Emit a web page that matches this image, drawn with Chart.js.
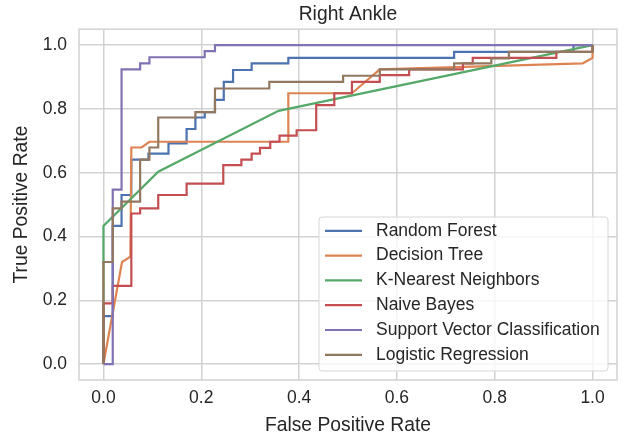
<!DOCTYPE html>
<html>
<head>
<meta charset="utf-8">
<script src="https://cdn.jsdelivr.net/npm/chart.js@4.4.1/dist/chart.umd.min.js"></script>
<style>
  html, body { margin: 0; padding: 0; background: #fff; }
  #wrap { width: 626px; height: 437px; }
</style>
</head>
<body>
<div id="wrap"><canvas id="rocChart" width="626" height="437"></canvas></div>
<script>
// ROC curves for each classifier: false positive rate / true positive rate
const modelNames = ['Random Forest', 'Decision Tree', 'K-Nearest Neighbors',
    'Naive Bayes', 'Support Vector Classification', 'Logistic Regression'];
const modelColors = ['#4C72B0', '#DD8452', '#55A868', '#C44E52', '#8172B3', '#937860'];

const rfFpr = [0, 0, 0.019, 0.019, 0.037, 0.037, 0.057, 0.057, 0.092, 0.092, 0.133, 0.133, 0.17, 0.17, 0.188, 0.188, 0.207, 0.207, 0.228, 0.228, 0.246, 0.246, 0.265, 0.265, 0.303, 0.303, 0.378, 0.378, 0.717, 0.717, 0.961, 0.961, 1];
const rfTpr = [0, 0.15, 0.15, 0.433, 0.433, 0.53, 0.53, 0.641, 0.641, 0.66, 0.66, 0.692, 0.692, 0.737, 0.737, 0.773, 0.773, 0.79, 0.79, 0.828, 0.828, 0.885, 0.885, 0.922, 0.922, 0.943, 0.943, 0.96, 0.96, 0.979, 0.979, 1, 1];

const dtFpr = [0, 0.038, 0.055, 0.057, 0.078, 0.094, 0.378, 0.378, 0.508, 0.565, 0.98, 1, 1];
const dtTpr = [0, 0.32, 0.337, 0.679, 0.679, 0.697, 0.697, 0.849, 0.849, 0.924, 0.943, 0.96, 1];

const knnFpr = [0, 0, 0.112, 0.358, 1];
const knnTpr = [0, 0.433, 0.603, 0.794, 1];

const nbFpr = [0, 0, 0.019, 0.019, 0.057, 0.057, 0.075, 0.075, 0.112, 0.112, 0.17, 0.17, 0.245, 0.245, 0.282, 0.282, 0.303, 0.303, 0.32, 0.32, 0.341, 0.341, 0.36, 0.36, 0.395, 0.395, 0.435, 0.435, 0.472, 0.472, 0.508, 0.508, 0.565, 0.565, 0.625, 0.625, 0.735, 0.735, 0.755, 0.755, 0.926, 0.926, 1, 1];
const nbTpr = [0, 0.19, 0.19, 0.245, 0.245, 0.472, 0.472, 0.488, 0.488, 0.53, 0.53, 0.566, 0.566, 0.624, 0.624, 0.641, 0.641, 0.66, 0.66, 0.678, 0.678, 0.697, 0.697, 0.716, 0.716, 0.733, 0.733, 0.812, 0.812, 0.849, 0.849, 0.885, 0.885, 0.906, 0.906, 0.924, 0.924, 0.943, 0.943, 0.96, 0.96, 0.979, 0.979, 1];

const svcFpr = [0, 0.019, 0.019, 0.037, 0.037, 0.075, 0.075, 0.094, 0.094, 0.207, 0.207, 0.228, 0.228, 1];
const svcTpr = [0, 0, 0.547, 0.547, 0.924, 0.924, 0.943, 0.943, 0.962, 0.962, 0.981, 0.981, 1, 1];

const lrFpr = [0, 0, 0.019, 0.019, 0.037, 0.037, 0.075, 0.075, 0.094, 0.094, 0.112, 0.112, 0.188, 0.188, 0.228, 0.228, 0.339, 0.339, 0.49, 0.49, 0.565, 0.565, 0.717, 0.717, 0.793, 0.793, 0.829, 0.829, 1, 1];
const lrTpr = [0, 0.32, 0.32, 0.488, 0.488, 0.509, 0.509, 0.641, 0.641, 0.679, 0.679, 0.773, 0.773, 0.79, 0.79, 0.864, 0.864, 0.885, 0.885, 0.904, 0.904, 0.924, 0.924, 0.943, 0.943, 0.958, 0.958, 0.979, 0.979, 1];

const axisTicks = [0, 0.2, 0.4, 0.6, 0.8, 1.0];

const curves = [
    [rfFpr, rfTpr], [dtFpr, dtTpr], [knnFpr, knnTpr],
    [nbFpr, nbTpr], [svcFpr, svcTpr], [lrFpr, lrTpr]
];

const FONT = "'Liberation Sans', Arial, sans-serif";
const TEXT_COLOR = '#262626';
const GRID_COLOR = '#d2d2d2';

// Frame around the plotting area (all four sides)
const plotFrame = {
    id: 'plotFrame',
    beforeDatasetsDraw(chart) {
        const { ctx, chartArea: a } = chart;
        ctx.save();
        ctx.strokeStyle = GRID_COLOR;
        ctx.lineWidth = 1.5;
        ctx.strokeRect(a.left, a.top, a.right - a.left, a.bottom - a.top);
        ctx.restore();
    }
};

// Legend box drawn in the lower right corner of the plot
const insideLegend = {
    id: 'insideLegend',
    afterDatasetsDraw(chart) {
        const { ctx, chartArea: a } = chart;
        const boxW = 289, boxH = 154, r = 3;
        const x0 = a.right - 9 - boxW;
        const y0 = a.bottom - 9 - boxH;

        ctx.save();
        ctx.beginPath();
        ctx.roundRect(x0, y0, boxW, boxH, r);
        ctx.fillStyle = 'rgba(255,255,255,0.8)';
        ctx.fill();
        ctx.strokeStyle = '#d6d6d6';
        ctx.lineWidth = 1;
        ctx.stroke();

        ctx.font = '17.5px ' + FONT;
        ctx.textBaseline = 'middle';
        ctx.textAlign = 'left';
        chart.data.datasets.forEach((ds, i) => {
            const y = y0 + 13.8 + i * 24.8;
            ctx.beginPath();
            ctx.moveTo(x0 + 6, y);
            ctx.lineTo(x0 + 43, y);
            ctx.strokeStyle = ds.borderColor;
            ctx.lineWidth = 2.2;
            ctx.stroke();
            ctx.fillStyle = TEXT_COLOR;
            ctx.fillText(ds.label, x0 + 57, y);
        });
        ctx.restore();
    }
};

function fixedTicks(scale) {
    scale.ticks = axisTicks.map(v => ({ value: v }));
}

const datasets = curves.map(([fpr, tpr], i) => ({
    label: modelNames[i],
    data: fpr.map((x, k) => ({ x: x, y: tpr[k] })),
    borderColor: modelColors[i],
    backgroundColor: modelColors[i],
    borderWidth: 2.2,
    pointRadius: 0,
    fill: false,
    tension: 0,
    order: curves.length - i
}));

new Chart(document.getElementById('rocChart'), {
    type: 'line',
    data: { datasets: datasets },
    options: {
        responsive: false,
        animation: false,
        layout: { padding: { left: 0, right: 9, top: 0, bottom: 0 } },
        scales: {
            x: {
                type: 'linear',
                min: -0.05,
                max: 1.05,
                afterBuildTicks: fixedTicks,
                afterFit: (scale) => { scale.height = 57; },
                grid: { color: GRID_COLOR, lineWidth: 1.5, drawTicks: false },
                border: { display: false },
                ticks: {
                    padding: 8,
                    color: TEXT_COLOR,
                    font: { family: FONT, size: 17.5 },
                    callback: (v) => v.toFixed(1)
                },
                title: {
                    display: true,
                    text: 'False Positive Rate',
                    color: TEXT_COLOR,
                    font: { family: FONT, size: 19.3 },
                    padding: { top: 0, bottom: 0 }
                }
            },
            y: {
                type: 'linear',
                min: -0.05,
                max: 1.05,
                afterBuildTicks: fixedTicks,
                afterFit: (scale) => { scale.width = 79; },
                grid: { color: GRID_COLOR, lineWidth: 1.5, drawTicks: false },
                border: { display: false },
                ticks: {
                    padding: 12,
                    color: TEXT_COLOR,
                    font: { family: FONT, size: 17.5 },
                    callback: (v) => v.toFixed(1)
                },
                title: {
                    display: true,
                    text: 'True Positive Rate',
                    color: TEXT_COLOR,
                    font: { family: FONT, size: 19.3 },
                    padding: { top: 10, bottom: 0 }
                }
            }
        },
        plugins: {
            legend: { display: false },
            tooltip: { enabled: false },
            title: {
                display: true,
                fullSize: false,
                text: 'Right Ankle',
                color: TEXT_COLOR,
                font: { family: FONT, size: 19.3, weight: 'normal' },
                padding: { top: 3, bottom: 3 }
            }
        }
    },
    plugins: [plotFrame, insideLegend]
});
</script>
</body>
</html>
